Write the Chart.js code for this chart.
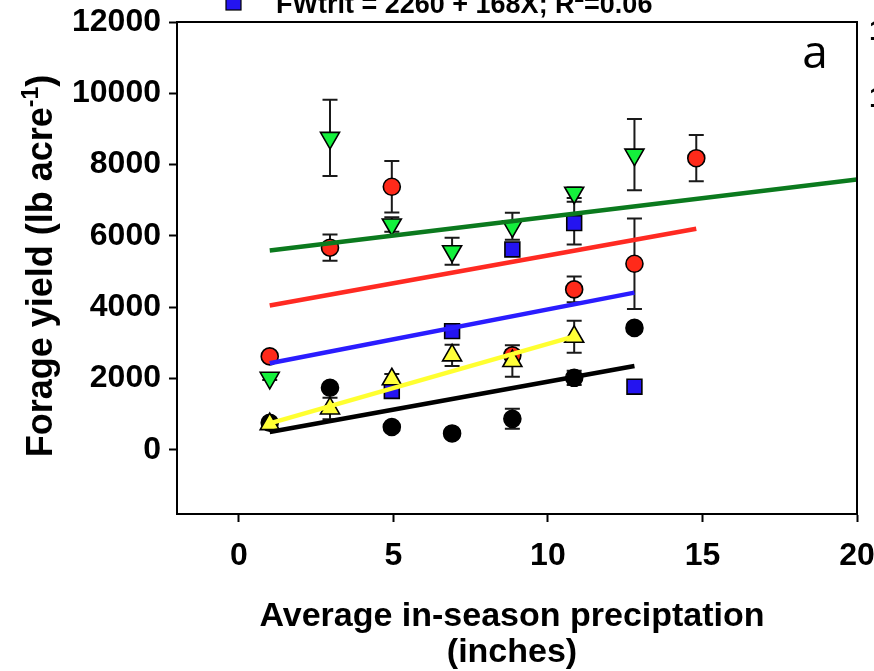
<!DOCTYPE html>
<html><head><meta charset="utf-8">
<script src="https://cdn.jsdelivr.net/npm/chart.js@4.4.0/dist/chart.umd.min.js"></script>
<style>html,body{margin:0;padding:0;background:#fff;overflow:hidden}#wrap{width:874px;height:671px;position:relative}</style>
</head><body><div id="wrap"><canvas id="c" width="874" height="671"></canvas></div>
<script>
// ---- data ----
const xPrecip   = [1, 2.95, 4.95, 6.9, 8.85, 10.85, 12.8, 14.8];
const blackY    = [760, 1740, 640, 460, 870, 2020, 3420, null];
const blackErr  = [80, 100, 100, 120, 280, 200, 120, null];
const redY      = [2620, 5670, 7380, null, 2650, 4500, 5220, 8180];
const redErr    = [100, 370, 720, null, 150, 360, 1270, 650];
const blueY     = [null, null, 1650, 3330, 5620, 6360, 1770, null];
const blueErr   = [null, null, 120, 150, 150, 600, null, null];
const yellowY   = [720, 1160, 1980, 2650, 2490, 3170, null, null];
const yellowErr = [null, 300, 150, 300, 440, 450, null, null];
const greenY    = [2020, 8750, 6320, 5570, 6270, 7210, 8280, null];
const greenErr  = [60, 1070, 200, 380, 380, 150, 1000, null];

const blackFitX = [1, 12.8],  blackFitY = [500, 2350];
const redFitX   = [1, 14.8],  redFitY   = [4050, 6200];
const blueFitX  = [1, 12.8],  blueFitY  = [2430, 4410];
const yellowFitX= [1, 10.85], yellowFitY= [740, 3180];
const greenFitX = [1, 20],    greenFitY = [5590, 7580];

const xTicks = [0, 5, 10, 15, 20];
const yTicks = [0, 2000, 4000, 6000, 8000, 10000, 12000];
const legendText = 'FWtrit = 2260 + 168X; R';
const panelLabel = 'a';
const xTitle1 = 'Average in-season preciptation';
const xTitle2 = '(inches)';
const yTitle = 'Forage yield (lb acre';

// ---- helpers ----
const pts = (xs, ys) => xs.map((x, i) => ({x: x, y: ys[i]})).filter(p => p.y !== null);
const C = {
  black: '#000000', red: '#ff2a1a', blue: '#2414f0', yellow: '#ffff3a', green: '#14f03c',
  lineBlack: '#000000', lineRed: '#ff2a22', lineBlue: '#2a1cff', lineYellow: '#ffff30', lineGreen: '#0b7a1e'
};
function pointSet(label, ys, fill, style, r, rot, order) {
  return {label, data: pts(xPrecip, ys), showLine: false, pointStyle: style, pointRadius: r,
    pointHoverRadius: r, pointRotation: rot, backgroundColor: fill, borderColor: '#000',
    pointBorderWidth: 1.6, order};
}
function lineSet(label, xs, ys, color) {
  return {label, data: pts(xs, ys), showLine: true, borderColor: color, borderWidth: 4.5,
    pointRadius: 0, pointHoverRadius: 0, fill: false, order: 0, borderCapStyle: 'butt'};
}
const errSeries = [
  [blackY, blackErr], [redY, redErr], [blueY, blueErr], [yellowY, yellowErr], [greenY, greenErr]
];

const errorBars = {
  id: 'errorBars',
  beforeDatasetsDraw(chart) {
    const {ctx, scales: {x, y}} = chart;
    ctx.save();
    ctx.strokeStyle = '#1a1a1a'; ctx.lineWidth = 2;
    errSeries.forEach(([ys, es]) => {
      ys.forEach((v, i) => {
        if (v === null || es[i] === null) return;
        const px = x.getPixelForValue(xPrecip[i]);
        const top = y.getPixelForValue(v + es[i]);
        const bot = y.getPixelForValue(v - es[i]);
        ctx.beginPath();
        ctx.moveTo(px, top); ctx.lineTo(px, bot);
        ctx.moveTo(px - 7.5, top); ctx.lineTo(px + 7.5, top);
        ctx.moveTo(px - 7.5, bot); ctx.lineTo(px + 7.5, bot);
        ctx.stroke();
      });
    });
    ctx.restore();
  }
};

const decor = {
  id: 'decor',
  afterDraw(chart) {
    const {ctx, chartArea: a} = chart;
    ctx.save();
    // frame top/right
    ctx.strokeStyle = '#000'; ctx.lineWidth = 2;
    ctx.beginPath();
    ctx.moveTo(a.left, a.top); ctx.lineTo(a.right, a.top); ctx.lineTo(a.right, a.bottom);
    ctx.stroke();
    ctx.fillStyle = '#000';
    // panel label
    ctx.font = '46px "Open Sans", sans-serif';
    ctx.textAlign = 'center'; ctx.textBaseline = 'alphabetic';
    ctx.fillText(panelLabel, 815, 68);
    // x title
    ctx.font = 'bold 34px "Liberation Sans", Arial, sans-serif';
    ctx.fillText(xTitle1, 512, 626);
    ctx.fillText(xTitle2, 512, 662);
    // y title with superscript
    const f1 = 'bold 36px "Liberation Sans", Arial, sans-serif';
    const f2 = 'bold 23px "Liberation Sans", Arial, sans-serif';
    ctx.font = f1; const w1 = ctx.measureText(yTitle).width; const wp = ctx.measureText(')').width;
    ctx.font = f2; const ws = ctx.measureText('-1').width;
    const total = w1 + ws + wp;
    ctx.translate(52, 266); ctx.rotate(-Math.PI / 2);
    ctx.textAlign = 'left';
    let sx = -total / 2;
    ctx.font = f1; ctx.fillText(yTitle, sx, 0); sx += w1;
    ctx.font = f2; ctx.fillText('-1', sx, -14); sx += ws;
    ctx.font = f1; ctx.fillText(')', sx, 0);
    ctx.setTransform(1, 0, 0, 1, 0, 0);
    // partial legend at top
    ctx.fillStyle = C.blue; ctx.fillRect(226, -4, 15, 14);
    ctx.strokeStyle = '#000'; ctx.lineWidth = 1.2; ctx.strokeRect(226, -4, 15, 14);
    ctx.fillStyle = '#000';
    ctx.font = 'bold 27px "Liberation Sans", Arial, sans-serif';
    ctx.textAlign = 'left';
    const wl = ctx.measureText(legendText).width;
    ctx.fillText(legendText, 276, 13);
    ctx.font = 'bold 17px "Liberation Sans", Arial, sans-serif';
    ctx.fillText('2', 276 + wl, 2);
    const w2 = ctx.measureText('2').width;
    ctx.font = 'bold 27px "Liberation Sans", Arial, sans-serif';
    ctx.fillText('=0.06', 276 + wl + w2, 13);
    // neighbouring panel labels cut at right edge
    ctx.font = 'bold 30px "Liberation Sans", Arial, sans-serif';
    ctx.fillText('12000', 869, 40);
    ctx.fillText('10000', 869, 107);
    ctx.restore();
  }
};

const tickFont = {family: '"Liberation Sans", Arial, sans-serif', size: 32, weight: 'bold'};

new Chart(document.getElementById('c'), {
  type: 'scatter',
  data: {
    datasets: [
      lineSet('black fit', blackFitX, blackFitY, C.lineBlack),
      lineSet('red fit', redFitX, redFitY, C.lineRed),
      lineSet('blue fit', blueFitX, blueFitY, C.lineBlue),
      lineSet('yellow fit', yellowFitX, yellowFitY, C.lineYellow),
      lineSet('green fit', greenFitX, greenFitY, C.lineGreen),
      pointSet('green', greenY, C.green, 'triangle', 11, 180, 1),
      pointSet('yellow', yellowY, C.yellow, 'triangle', 11, 0, 2),
      pointSet('blue', blueY, C.blue, 'rect', 10.5, 0, 3),
      pointSet('red', redY, C.red, 'circle', 8.5, 0, 4),
      pointSet('black', blackY, C.black, 'circle', 8.5, 0, 5)
    ]
  },
  options: {
    responsive: false, animation: false, events: [],
    layout: {padding: {top: 22, right: 17, left: 0, bottom: 0}},
    plugins: {legend: {display: false}, tooltip: {enabled: false}},
    scales: {
      x: {
        type: 'linear', min: -2, max: 20,
        afterBuildTicks: s => { s.ticks = xTicks.map(v => ({value: v})); },
        afterFit: s => { s.height = 157; s.paddingLeft = 0; s.paddingRight = 0; },
        grid: {drawOnChartArea: false, drawTicks: true, tickLength: 8, tickWidth: 2, tickColor: '#000', color: '#000'},
        border: {display: true, color: '#000', width: 2},
        ticks: {font: tickFont, color: '#000', padding: 15, maxRotation: 0, autoSkip: false,
          callback: v => String(v)}
      },
      y: {
        type: 'linear', min: -1800, max: 12000,
        afterBuildTicks: s => { s.ticks = yTicks.map(v => ({value: v})); },
        afterFit: s => { s.width = 177; s.paddingTop = 0; s.paddingBottom = 0; },
        grid: {drawOnChartArea: false, drawTicks: true, tickLength: 8, tickWidth: 2, tickColor: '#000', color: '#000'},
        border: {display: true, color: '#000', width: 2},
        ticks: {font: tickFont, color: '#000', padding: 8, autoSkip: false,
          callback: v => String(v)}
      }
    }
  },
  plugins: [errorBars, decor]
});
</script>
</body></html>
